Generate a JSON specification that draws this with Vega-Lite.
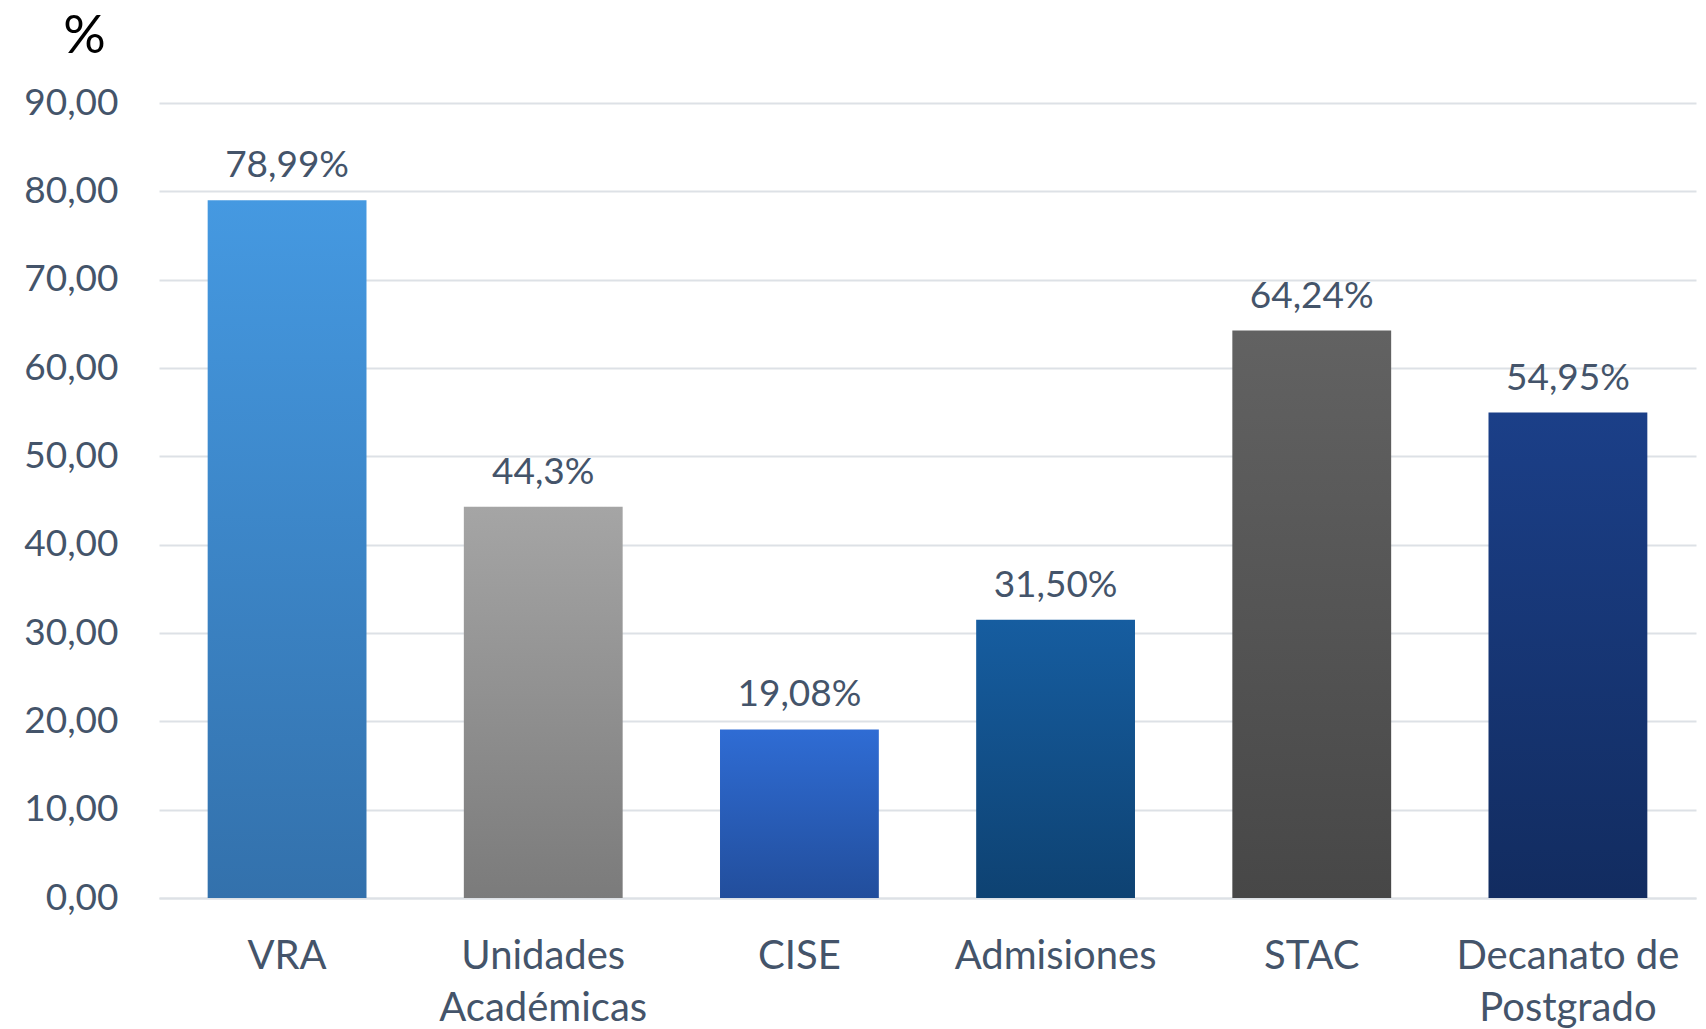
{
  "$schema": "https://vega.github.io/schema/vega-lite/v6.json",
  "width": 1537,
  "height": 795,
  "autosize": {"type": "none"},
  "padding": {"left": 159, "top": 103, "right": 10, "bottom": 131},
  "background": "white",
  "config": {"view": {"stroke": null}, "font": "Lato"},
  "data": {"values": [
    {"cat": "VRA", "value": 78.99, "label": "78,99%"},
    {"cat": "Unidades Académicas", "value": 44.3, "label": "44,3%"},
    {"cat": "CISE", "value": 19.08, "label": "19,08%"},
    {"cat": "Admisiones", "value": 31.50, "label": "31,50%"},
    {"cat": "STAC", "value": 64.24, "label": "64,24%"},
    {"cat": "Decanato de Postgrado", "value": 54.95, "label": "54,95%"}
  ]},
  "encoding": {
    "x": {
      "field": "cat", "type": "nominal",
      "scale": {"domain": ["VRA", "Unidades Académicas", "CISE", "Admisiones", "STAC", "Decanato de Postgrado"], "paddingInner": 0.38, "paddingOuter": 0.19},
      "axis": {
        "title": null, "labelAngle": 0, "ticks": false, "domain": true, "domainColor": "#dde1e6", "domainWidth": 2,
        "labelFont": "Lato", "labelFontSize": 40, "labelColor": "#44546A", "labelPadding": 70, "labelBaseline": "alphabetic", "labelLineHeight": 52,
        "labelLimit": 0, "labelOverlap": false,
        "labelExpr": "datum.label == 'Unidades Académicas' ? ['Unidades', 'Académicas'] : datum.label == 'Decanato de Postgrado' ? ['Decanato de', 'Postgrado'] : datum.label"
      }
    },
    "y": {
      "field": "value", "type": "quantitative",
      "scale": {"domain": [0, 90], "nice": false},
      "axis": {
        "values": [0, 10, 20, 30, 40, 50, 60, 70, 80, 90],
        "labelExpr": "replace(format(datum.value, '.2f'), '.', ',')",
        "ticks": false, "domain": false, "gridColor": "#dde1e6", "gridWidth": 2,
        "labelFont": "Lato", "labelFontSize": 37, "labelColor": "#44546A", "labelPadding": 41,
        "title": "%", "titleAngle": 0, "titleX": -75, "titleY": -51, "titleAlign": "center", "titleBaseline": "alphabetic",
        "titleFont": "Lato", "titleFontSize": 53, "titleFontWeight": "normal", "titleColor": "#000000"
      }
    }
  },
  "layer": [
    {"transform": [{"filter": "datum.cat == 'VRA'"}], "mark": {"type": "bar", "color": {"gradient": "linear", "x1": 0, "y1": 0, "x2": 0, "y2": 1, "stops": [{"offset": 0, "color": "#4599E1"}, {"offset": 1, "color": "#3371AC"}]}}},
    {"transform": [{"filter": "datum.cat == 'Unidades Académicas'"}], "mark": {"type": "bar", "color": {"gradient": "linear", "x1": 0, "y1": 0, "x2": 0, "y2": 1, "stops": [{"offset": 0, "color": "#A5A5A5"}, {"offset": 1, "color": "#7B7B7B"}]}}},
    {"transform": [{"filter": "datum.cat == 'CISE'"}], "mark": {"type": "bar", "color": {"gradient": "linear", "x1": 0, "y1": 0, "x2": 0, "y2": 1, "stops": [{"offset": 0, "color": "#2F6CD4"}, {"offset": 1, "color": "#224E9C"}]}}},
    {"transform": [{"filter": "datum.cat == 'Admisiones'"}], "mark": {"type": "bar", "color": {"gradient": "linear", "x1": 0, "y1": 0, "x2": 0, "y2": 1, "stops": [{"offset": 0, "color": "#165DA0"}, {"offset": 1, "color": "#0E4272"}]}}},
    {"transform": [{"filter": "datum.cat == 'STAC'"}], "mark": {"type": "bar", "color": {"gradient": "linear", "x1": 0, "y1": 0, "x2": 0, "y2": 1, "stops": [{"offset": 0, "color": "#626262"}, {"offset": 1, "color": "#474747"}]}}},
    {"transform": [{"filter": "datum.cat == 'Decanato de Postgrado'"}], "mark": {"type": "bar", "color": {"gradient": "linear", "x1": 0, "y1": 0, "x2": 0, "y2": 1, "stops": [{"offset": 0, "color": "#1B3F88"}, {"offset": 1, "color": "#122C60"}]}}},
    {
      "mark": {"type": "text", "baseline": "alphabetic", "align": "center", "dy": -23, "font": "Lato", "fontSize": 37, "color": "#44546A"},
      "encoding": {"text": {"field": "label"}}
    }
  ]
}
